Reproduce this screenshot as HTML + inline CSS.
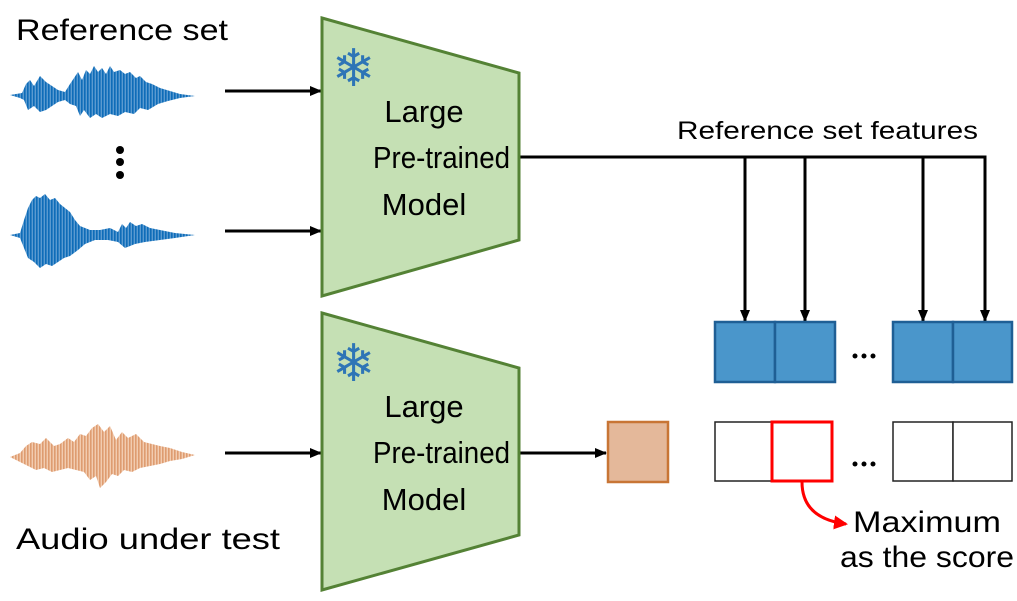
<!DOCTYPE html>
<html><head><meta charset="utf-8"><style>
body{margin:0;background:#fff;}
svg{display:block;}
text{font-family:"Liberation Sans",sans-serif;fill:#000;}
</style></head><body>
<svg width="1017" height="601" viewBox="0 0 1017 601" xmlns="http://www.w3.org/2000/svg">
<defs>
<pattern id="pb" width="3" height="10" patternUnits="userSpaceOnUse"><rect width="3" height="10" fill="#5a9ad0"/><rect width="1.6" height="10" fill="#0e6cb8"/></pattern>
<pattern id="po" width="3" height="10" patternUnits="userSpaceOnUse"><rect width="3" height="10" fill="#f2ccb0"/><rect width="1.6" height="10" fill="#de9c70"/></pattern>
<marker id="ah" markerWidth="12" markerHeight="12" refX="11" refY="6" orient="auto" markerUnits="userSpaceOnUse"><path d="M0,1 L12,6 L0,11z" fill="#000"/></marker>
<marker id="ar" markerWidth="14" markerHeight="14" refX="12" refY="7" orient="auto" markerUnits="userSpaceOnUse"><path d="M0,0 L14,7 L0,14z" fill="#f00"/></marker>
</defs>
<text x="16" y="40" font-size="30" textLength="212" lengthAdjust="spacingAndGlyphs">Reference set</text>
<text x="16" y="549" font-size="30" textLength="264" lengthAdjust="spacingAndGlyphs">Audio under test</text>
<polygon fill="url(#pb)" points="10,95 22,93 26,84 30,80 34,86 40,76 46,82 52,86 58,90 65,92 70,84 74,78 78,72 82,80 86,70 90,74 94,66 98,72 102,68 106,74 110,66 114,72 120,70 125,74 130,72 136,78 140,76 146,82 152,84 160,88 170,91 180,94 195,96 180,98 168,101 158,104 148,110 140,108 134,114 125,112 118,116 110,114 102,118 96,114 90,118 84,110 80,116 76,106 70,104 65,100 58,102 52,106 46,110 40,112 34,106 28,110 24,100 20,98"/>
<polygon fill="url(#pb)" points="10,235 20,233 24,220 28,208 32,200 36,196 40,198 45,194 50,200 55,198 60,204 65,208 70,212 75,220 80,226 90,230 100,230 110,228 118,232 122,224 126,228 130,222 136,226 142,224 150,228 160,230 175,233 195,235 175,238 160,240 145,242 135,244 125,248 118,242 108,240 95,240 85,244 78,250 70,256 64,258 58,262 52,266 46,264 40,268 34,262 28,258 24,248 20,238"/>
<polygon fill="url(#po)" points="10,457 20,453 26,446 32,442 40,444 46,438 54,446 60,444 68,438 74,442 80,434 86,436 92,428 98,424 104,432 110,426 116,440 122,432 128,438 136,434 144,442 152,444 160,446 170,448 182,452 195,455 182,459 170,461 160,464 150,466 140,468 132,472 124,470 118,476 112,474 106,482 100,488 96,476 90,480 84,472 76,470 68,468 60,470 52,472 44,468 36,470 28,466 20,462"/>
<circle cx="120" cy="150" r="4"/><circle cx="120" cy="162" r="4"/><circle cx="120" cy="175" r="4"/>
<g stroke="#000" stroke-width="3" fill="none">
<line x1="225" y1="91" x2="321" y2="91" marker-end="url(#ah)"/>
<line x1="225" y1="231" x2="321" y2="231" marker-end="url(#ah)"/>
<line x1="225" y1="453" x2="321" y2="453" marker-end="url(#ah)"/>
<line x1="519" y1="453" x2="606" y2="453" marker-end="url(#ah)"/>
<polyline points="519,157 985,157 985,321" marker-end="url(#ah)"/>
<line x1="745" y1="157" x2="745" y2="321" marker-end="url(#ah)"/>
<line x1="805" y1="157" x2="805" y2="321" marker-end="url(#ah)"/>
<line x1="923" y1="157" x2="923" y2="321" marker-end="url(#ah)"/>
</g>
<polygon points="322,18 519,73 519,240 322,296" fill="#c5e0b4" stroke="#548235" stroke-width="3"/>
<polygon points="322,313 519,368 519,535 322,590" fill="#c5e0b4" stroke="#548235" stroke-width="3"/>
<text x="332" y="86" font-size="52" style="fill:#2e75b6;font-family:'DejaVu Sans',sans-serif">❄</text>
<text x="332" y="381" font-size="52" style="fill:#2e75b6;font-family:'DejaVu Sans',sans-serif">❄</text>
<g font-size="31">
<text x="424" y="122" text-anchor="middle">Large</text>
<text x="373" y="168" textLength="137" lengthAdjust="spacingAndGlyphs">Pre-trained</text>
<text x="424" y="215" text-anchor="middle">Model</text>
<text x="424" y="417" text-anchor="middle">Large</text>
<text x="373" y="463" textLength="137" lengthAdjust="spacingAndGlyphs">Pre-trained</text>
<text x="424" y="510" text-anchor="middle">Model</text>
</g>
<text x="677" y="139" font-size="25" textLength="301" lengthAdjust="spacingAndGlyphs">Reference set features</text>
<g fill="#4a96cb" stroke="#1f5f95" stroke-width="2.5">
<rect x="715" y="322" width="60" height="60"/><rect x="775" y="322" width="60" height="60"/>
<rect x="893" y="322" width="60" height="60"/><rect x="953" y="322" width="59" height="60"/>
</g>
<g fill="#000"><circle cx="855" cy="356" r="2.5"/><circle cx="864" cy="356" r="2.5"/><circle cx="873" cy="356" r="2.5"/>
<circle cx="855" cy="464" r="2.5"/><circle cx="864" cy="464" r="2.5"/><circle cx="873" cy="464" r="2.5"/></g>
<rect x="608" y="422" width="60" height="60" fill="#e4b89a" stroke="#c87535" stroke-width="2.5"/>
<g fill="#fff" stroke="#222" stroke-width="1.5">
<rect x="715" y="422" width="58" height="59"/>
<rect x="893" y="422" width="60" height="59"/><rect x="953" y="422" width="59" height="59"/>
</g>
<rect x="772" y="422" width="60" height="59" fill="#fff" stroke="#f00" stroke-width="3"/>
<path d="M802,482 C802,505 815,520 846,524" fill="none" stroke="#f00" stroke-width="3" marker-end="url(#ar)"/>
<text x="853" y="532" font-size="30" textLength="148" lengthAdjust="spacingAndGlyphs">Maximum</text>
<text x="840" y="567" font-size="30" textLength="174" lengthAdjust="spacingAndGlyphs">as the score</text>
</svg>
</body></html>
